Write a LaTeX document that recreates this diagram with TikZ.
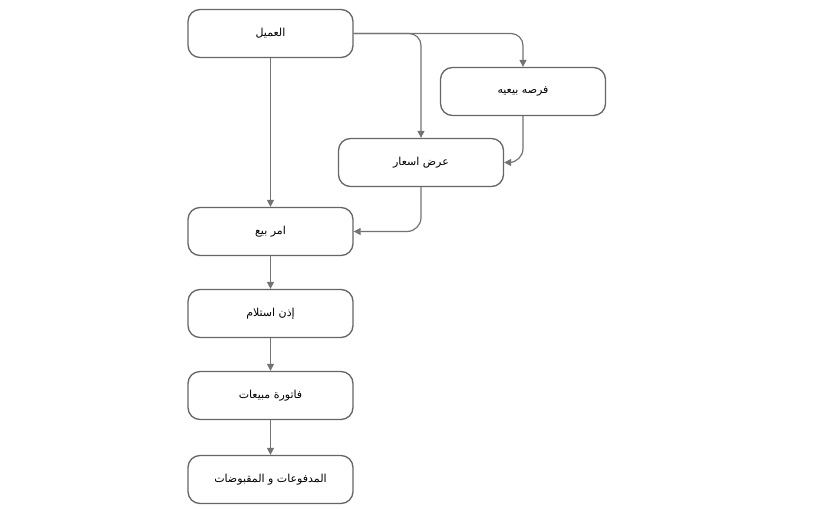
\documentclass[tikz,border=0pt]{standalone}
\usepackage{fontspec}
\newfontfamily\arabicfont[Script=Arabic]{DejaVu Sans}
\TeXXeTstate=1
\usetikzlibrary{arrows.meta}
\begin{document}
\begin{tikzpicture}[x=1pt,y=-1pt,
  box/.style={draw=black!60,line width=1.3pt,rounded corners=12pt,minimum width=165pt,minimum height=48pt,fill=white,font=\arabicfont\fontsize{11}{13}\selectfont},
  conn/.style={draw=black!55,line width=1.2pt,-{Triangle[length=7pt,width=7pt]}}]
\useasboundingbox (0,0) rectangle (831,509);
\node[box] (a) at (270.5,33.5) {\beginR العميل\endR};
\node[box] (b) at (523,91.5) {\beginR فرصه بيعيه\endR};
\node[box] (c) at (421,162.5) {\beginR عرض اسعار\endR};
\node[box] (d) at (270.5,231.5) {\beginR امر بيع\endR};
\node[box] (e) at (270.5,313.5) {\beginR إذن استلام\endR};
\node[box] (f) at (270.5,395.5) {\beginR فاتورة مبيعات\endR};
\node[box] (g) at (270.5,479.5) {\beginR المدفوعات و المقبوضات\endR};
\draw[conn,rounded corners=12pt] (a.east) -| (b.north);
\draw[conn,rounded corners=12pt] (a.east) -| (c.north);
\draw[conn,rounded corners=14pt] (b.south) |- (c.east);
\draw[conn,rounded corners=14pt] (c.south) |- (d.east);
\draw[conn] (a.south) -- (d.north);
\draw[conn] (d.south) -- (e.north);
\draw[conn] (e.south) -- (f.north);
\draw[conn] (f.south) -- (g.north);
\end{tikzpicture}
\end{document}
